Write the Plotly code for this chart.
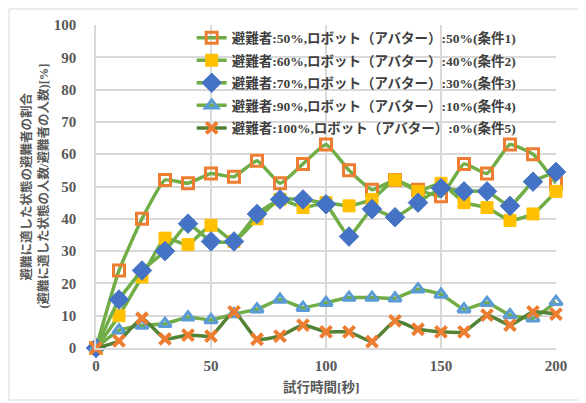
import plotly.graph_objects as go

time_s = [0, 10, 20, 30, 40, 50, 60, 70, 80, 90, 100, 110, 120, 130, 140, 150, 160, 170, 180, 190, 200]
cond1 = [0, 24, 40, 52, 51, 54, 53, 58, 51, 57, 63, 55, 49, 52, 49, 47, 57, 54, 63, 60, 51]
cond2 = [0, 10, 22, 34, 32, 38, 33, 40, 46, 43.5, 45, 44, 46, 52, 48.5, 51, 45, 43.5, 39.5, 41.5, 48.5]
cond3 = [0, 15, 24, 30, 38.5, 33, 33, 41.5, 46, 46, 44.5, 34.5, 43, 40.5, 45, 49.5, 48.5, 48.5, 44, 51.5, 54.5]
cond4 = [0, 5.5, 7, 7.5, 9.5, 8.7, 10.5, 12, 15, 12.5, 14, 15.6, 15.6, 15.4, 18.2, 16.6, 12, 14, 10.2, 9.2, 14.3]
cond5 = [0, 2.2, 9.2, 2.8, 4, 3.7, 11.2, 2.7, 3.7, 7.1, 5, 5, 2, 8.4, 5.8, 5, 5, 10.2, 7.1, 11.2, 10.5]

names = [
    "避難者:50%,ロボット（アバター）:50%(条件1)",
    "避難者:60%,ロボット（アバター）:40%(条件2)",
    "避難者:70%,ロボット（アバター）:30%(条件3)",
    "避難者:90%,ロボット（アバター）:10%(条件4)",
    "避難者:100%,ロボット（アバター）:0%(条件5)",
]
x_title = "試行時間[秒]"
y_title_lines = ["避難に適した状態の避難者の割合", "(避難に適した状態の人数/避難者の人数)[%]"]

GREEN = "#70AD47"
DKGREEN = "#548235"
ORANGE = "#ED7D31"
YELLOW = "#FFC000"
BLUE = "#4472C4"
LBLUE = "#5B9BD5"

FONT = "Liberation Serif, Noto Sans CJK JP, serif"

fig = go.Figure()
styles = [
    (cond1, GREEN, dict(symbol="square", size=11, color="rgba(255,255,255,0)", line=dict(color=ORANGE, width=3))),
    (cond2, GREEN, dict(symbol="square", size=12, color=YELLOW, line=dict(color=YELLOW, width=1))),
    (cond3, GREEN, dict(symbol="diamond", size=15, color=BLUE, line=dict(color=BLUE, width=1))),
    (cond4, GREEN, dict(symbol="triangle-up", size=11, color="rgba(255,255,255,0)", line=dict(color=LBLUE, width=3))),
    (cond5, DKGREEN, dict(symbol="x-thin", size=11, color=ORANGE, line=dict(color=ORANGE, width=4))),
]
for i, (vals, lc, mk) in enumerate(styles):
    fig.add_trace(go.Scatter(
        x=time_s, y=vals, name=names[i], mode="lines+markers",
        line=dict(color=lc, width=3.5, shape="spline", smoothing=0.4),
        marker=mk, legendgroup=f"g{i}", cliponaxis=False,
    ))

annots = [
    dict(text=x_title, xref="paper", yref="paper", x=0.49, y=-0.121,
         xanchor="center", yanchor="middle", showarrow=False,
         font=dict(family=FONT, size=13.5, color="#595959", weight="bold")),
]
for xp, txt in zip([-0.152, -0.115], y_title_lines):
    annots.append(dict(text=txt, xref="paper", yref="paper", x=xp, y=0.5,
                       xanchor="center", yanchor="middle", showarrow=False, textangle=-90,
                       font=dict(family=FONT, size=12.5, color="#595959", weight="bold")))

fig.update_layout(
    width=578, height=395,
    margin=dict(l=88, r=30, t=17, b=55),
    paper_bgcolor="white", plot_bgcolor="white",
    font=dict(family=FONT, color="#595959", size=13),
    showlegend=True,
    legend=dict(
        x=0.208, y=1.008, xanchor="left", yanchor="top",
        bgcolor="rgba(0,0,0,0)", tracegroupgap=2,
        font=dict(family=FONT, size=13.5, color="#404040", weight="bold"),
        itemwidth=30,
    ),
    xaxis=dict(
        range=[0, 200], dtick=50, tick0=0, automargin=False,
        showgrid=True, gridcolor="#D9D9D9", gridwidth=1.5,
        showline=True, linecolor="#D9D9D9", linewidth=1.5,
        zeroline=False, ticks="", ticklabelstandoff=3,
        tickfont=dict(family=FONT, size=15, color="#595959", weight="bold"),
    ),
    yaxis=dict(
        range=[0, 100], dtick=10, tick0=0, automargin=False,
        showgrid=True, gridcolor="#D9D9D9", gridwidth=1.5,
        showline=True, linecolor="#D9D9D9", linewidth=1.5,
        zeroline=False, ticks="", ticklabelstandoff=15,
        tickfont=dict(family=FONT, size=15, color="#595959", weight="bold"),
    ),
    annotations=annots,
)

fig.add_shape(type="rect", xref="paper", yref="paper",
              x0=-0.189, x1=1.061, y0=-0.161, y1=1.0495,
              line=dict(color="#D9D9D9", width=1), fillcolor="rgba(0,0,0,0)", layer="below")

fig.write_html("out.html")
